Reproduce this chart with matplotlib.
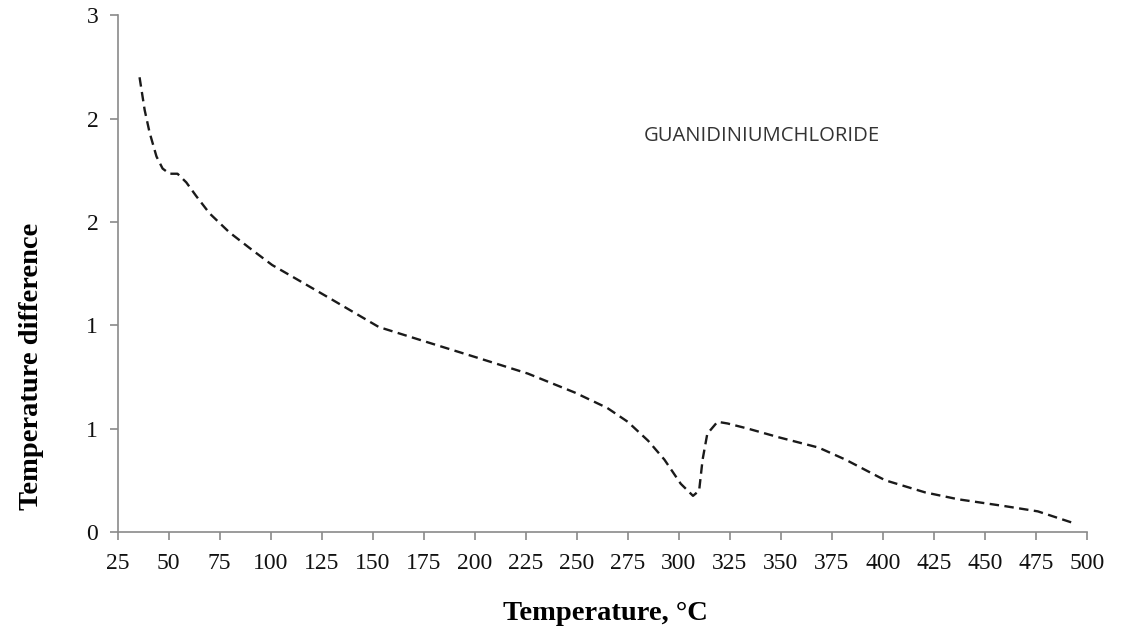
import matplotlib
matplotlib.use('Agg')
import matplotlib.pyplot as plt
from matplotlib.ticker import FormatStrFormatter

# DTA curve
temp = [35.7, 38.2, 40.6, 44, 47, 50.4, 54.3, 58.6, 63.5, 70, 79.7, 89.5, 100.7,
        113.9, 128.5, 153, 177.3, 201.8, 226, 249, 265, 275, 285, 293, 301, 307,
        310, 311.7, 314, 319, 324, 334, 349, 368.6, 381.8, 398, 401.3, 420.8,
        437, 460, 476, 494]
dT = [2.64, 2.45, 2.32, 2.18, 2.11, 2.08, 2.08, 2.03, 1.95, 1.85, 1.74, 1.65, 1.55,
      1.46, 1.36, 1.19, 1.10, 1.01, 0.92, 0.81, 0.72, 0.64, 0.53, 0.42, 0.28, 0.21,
      0.24, 0.42, 0.57, 0.64, 0.63, 0.60, 0.55, 0.49, 0.42, 0.32, 0.30, 0.23,
      0.19, 0.15, 0.12, 0.05]

xticks = list(range(25, 501, 25))
yticks = [0, 0.6, 1.2, 1.8, 2.4, 3.0]

fig = plt.figure(figsize=(11.32, 6.36), dpi=100)
ax = fig.add_axes([0.104, 0.1635, 0.856, 0.8125])

ax.plot(temp, dT, color='#1a1a1a', lw=1.7, ls=(0, (4, 2.3)),
        solid_joinstyle='round', dash_joinstyle='round')

ax.set_xlim(25, 500)
ax.set_ylim(0, 3)
ax.set_xticks(xticks)
ax.set_yticks(yticks)
ax.yaxis.set_major_formatter(FormatStrFormatter('%.0f'))

for s in ['top', 'right']:
    ax.spines[s].set_visible(False)
for s in ['left', 'bottom']:
    ax.spines[s].set_color('#8a8a8a')
    ax.spines[s].set_linewidth(1.2)
ax.tick_params(colors='#8a8a8a', length=6, width=1.2, labelcolor='#111111',
               labelsize=17)
ax.tick_params(axis='x', pad=9)
ax.tick_params(axis='y', pad=8)
for lab in ax.get_xticklabels() + ax.get_yticklabels():
    lab.set_family('Liberation Serif')

ax.set_xlabel('Temperature, °C', family='Liberation Serif', fontweight='bold',
              fontsize=20.5)
ax.xaxis.set_label_coords(0.503, -0.133)
ax.set_ylabel('Temperature difference', family='Liberation Serif',
              fontweight='bold', fontsize=20.5)
ax.yaxis.set_label_coords(-0.076, 0.321)

ax.text(0.543, 0.766, 'GUANIDINIUMCHLORIDE', transform=ax.transAxes,
        family='Open Sans', fontsize=14.6, color='#333333', va='center')

fig.savefig('out.png', dpi=100)
